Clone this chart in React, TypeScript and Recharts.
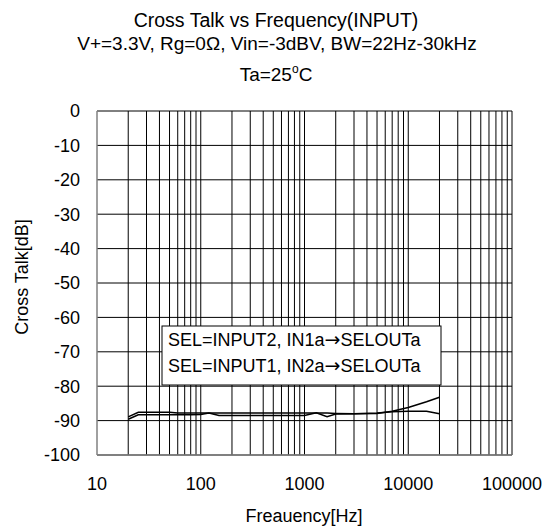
import { LineChart, Line, XAxis, YAxis, CartesianGrid, ReferenceLine } from 'recharts'

const frequencies = [20, 25, 30, 40, 50, 60, 80, 100, 120, 150, 200, 300, 500, 700, 1000, 1300, 1650, 2000, 3000, 5000, 7000, 10000, 15000, 20000]
const crossTalkIn1a = [-88.9, -87.6, -87.6, -87.6, -87.6, -87.8, -87.8, -87.8, -87.8, -87.8, -87.8, -87.8, -87.8, -87.8, -87.8, -87.8, -87.8, -87.9, -88.0, -87.9, -87.3, -86.2, -84.5, -83.2]
const crossTalkIn2a = [-89.6, -88.3, -88.3, -88.3, -88.3, -88.3, -88.3, -88.2, -87.8, -88.5, -88.5, -88.5, -88.5, -88.5, -88.5, -87.7, -88.9, -88.1, -88.0, -87.8, -87.4, -87.3, -87.3, -88.0]

const xTicks = [10, 100, 1000, 10000, 100000]
const yTicks = [0, -10, -20, -30, -40, -50, -60, -70, -80, -90, -100]
const decades = [10, 100, 1000, 10000]
const multipliers = [2, 3, 4, 5, 6, 7, 8, 9]

// legend text split around the arrow so the arrow can use a font with a full-size glyph
const legendLabels = [
  ['SEL=INPUT2, IN1a', 'SELOUTa'],
  ['SEL=INPUT1, IN2a', 'SELOUTa'],
]

const data = frequencies.map((f, i) => ({ f, a: crossTalkIn1a[i], b: crossTalkIn2a[i] }))
const gridFreqs = [...decades.flatMap(d => multipliers.map(m => d * m)), 100, 1000, 10000, 100000]

const font = '"Liberation Sans", Arial, sans-serif'
const tickStyle = { fontSize: 18, fill: '#000', fontFamily: font }

export default function App() {
  return (
    <div style={{ position: 'absolute', left: 0, top: 0, width: 549, height: 529, background: '#fff' }}>
      <LineChart width={549} height={529} data={data} margin={{ top: 111, right: 37, bottom: 0, left: 0 }}>
        <CartesianGrid vertical={false} stroke="#000" strokeWidth={1} />
        {gridFreqs.map(v => (
          <ReferenceLine key={v} x={v} stroke="#000" strokeWidth={1} />
        ))}
        <XAxis
          dataKey="f"
          type="number"
          scale="log"
          domain={[10, 100000]}
          ticks={xTicks}
          height={74}
          tickSize={0}
          tickMargin={22}
          tickLine={false}
          axisLine={{ stroke: '#808080', strokeWidth: 1.5 }}
          tick={tickStyle}
          allowDataOverflow
        />
        <YAxis
          type="number"
          domain={[-100, 0]}
          ticks={yTicks}
          width={97}
          tickSize={0}
          tickMargin={17}
          tickLine={false}
          axisLine={{ stroke: '#808080', strokeWidth: 1.5 }}
          tick={tickStyle}
          allowDataOverflow
        />
        <Line dataKey="a" stroke="#000" strokeWidth={1.5} dot={false} isAnimationActive={false} />
        <Line dataKey="b" stroke="#000" strokeWidth={1.5} dot={false} isAnimationActive={false} />
      </LineChart>
      <svg width={549} height={529} style={{ position: 'absolute', left: 0, top: 0, pointerEvents: 'none' }}>
        <g fontFamily={font} fill="#000">
          <text x={276} y={27} fontSize={19.5} textAnchor="middle">Cross Talk vs Frequency(INPUT)</text>
          <text x={277} y={50} fontSize={19} textAnchor="middle">V+=3.3V, Rg=0Ω, Vin=-3dBV, BW=22Hz-30kHz</text>
          <text x={276} y={81} fontSize={19} textAnchor="middle">
            Ta=25<tspan fontSize={12} dy={-8}>o</tspan><tspan dy={8}>C</tspan>
          </text>
          <text x={28} y={277} fontSize={18} textAnchor="middle" transform="rotate(-90, 28, 277)">Cross Talk[dB]</text>
          <text x={304} y={522} fontSize={18} textAnchor="middle">Freauency[Hz]</text>
          <rect x={162} y={326} width={279} height={59} fill="#fff" stroke="#000" strokeWidth={1} />
          {legendLabels.map(([pre, post], i) => (
            <text key={pre} x={168} y={346 + i * 26} fontSize={18}>
              {pre}
              <tspan fontFamily='"DejaVu Sans", sans-serif' fontSize={19}>→</tspan>
              {post}
            </text>
          ))}
        </g>
      </svg>
    </div>
  )
}
